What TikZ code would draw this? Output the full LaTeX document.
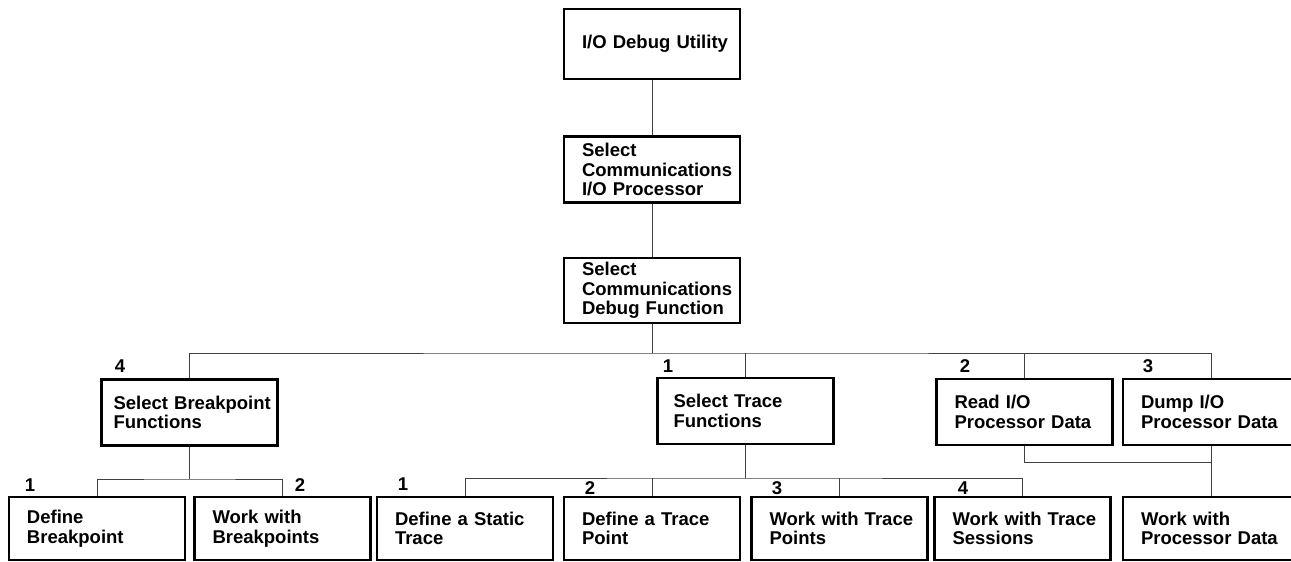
\documentclass[tikz,border=0pt]{standalone}
\usepackage{fontspec}
\setmainfont{Liberation Sans}
\usepackage{tikz}
\usetikzlibrary{positioning, calc}
\hyphenpenalty=10000
\exhyphenpenalty=10000

\begin{document}
\begin{tikzpicture}[x=1pt, y=-1pt,
		font=\fontsize{18.5}{19.5}\selectfont\bfseries,
		box/.style = {draw, line width=2.8pt, minimum width=176pt, minimum height=66pt,
			text width=140pt, inner xsep=18pt, inner ysep=0pt, align=left},
		low/.style = {box, minimum height=63pt},
		num/.style = {inner sep=0pt},
		wire/.style = {line width=0.9pt, draw=black!75}]
	\useasboundingbox (0,0) rectangle (1291,562);

	% main path
	\node[box, minimum height=70pt] (dbg) at (652,44) {I/O~Debug~Utility};
	\node[box] (cip) at (652,169.5) {Select\\Communications\\I/O~Processor};
	\node[box, minimum height=65pt] (cdf) at (652,290.5) {Select\\Communications\\Debug~Function};

	% debug functions
	\node[box, text width=152pt, inner xsep=12pt] (sbf) at (189.5,412.5) {Select~Breakpoint\\Functions};
	\node[box, text width=144pt, inner xsep=16pt] (stf) at (745.5,411) {Select~Trace\\Functions};
	\node[box] (rio) at (1024.5,412) {Read~I/O\\Processor~Data};
	\node[box] (dio) at (1211,412) {Dump~I/O\\Processor~Data};
	\node[num] (n-sbf) at (120,366) {4};
	\node[num] (n-stf) at (668,366) {1};
	\node[num] (n-rio) at (965,366) {2};
	\node[num] (n-dio) at (1148,366) {3};

	% bottom row
	\node[low] (dbp) at (97,528.5) {Define\\Breakpoint};
	\node[low] (wbp) at (282.5,528.5) {Work~with\\Breakpoints};
	\node[low] (dst) at (465,528.5) {Define~a~Static\\Trace};
	\node[low] (dtp) at (652,528.5) {Define~a~Trace\\Point};
	\node[low] (wtp) at (839.5,528.5) {Work~with~Trace\\Points};
	\node[low] (wts) at (1022.5,528.5) {Work~with~Trace\\Sessions};
	\node[low] (wpd) at (1211,528.5) {Work~with\\Processor~Data};
	\node[num] (n-dbp) at (30,485) {1};
	\node[num] (n-wbp) at (300,485) {2};
	\node[num] (n-dst) at (403,484) {1};
	\node[num] (n-dtp) at (590,488) {2};
	\node[num] (n-wtp) at (777,488) {3};
	\node[num] (n-wts) at (963,488) {4};

	\coordinate (top-bus) at (652,353);
	\coordinate (bp-bus) at (189.5,479);
	\coordinate (tr-bus) at (745.5,478);
	\coordinate (pd-bus) at (1211,462);

	\draw[wire] (dbg.south) -- (cip.north);
	\draw[wire] (cip.south) -- (cdf.north);
	\draw[wire] (cdf.south) -- (top-bus);
	\draw[wire] (sbf.north) |- (top-bus) -| (dio.north);
	\draw[wire] (stf.north) -- (stf.north |- top-bus);
	\draw[wire] (rio.north) -- (rio.north |- top-bus);

	\draw[wire] (sbf.south) -- (bp-bus);
	\draw[wire] (dbp.north) |- (bp-bus) -| (wbp.north);

	\draw[wire] (stf.south) -- (tr-bus);
	\draw[wire] (dst.north) |- (tr-bus) -| (wts.north);
	\draw[wire] (dtp.north) -- (dtp.north |- tr-bus);
	\draw[wire] (wtp.north) -- (wtp.north |- tr-bus);

	\draw[wire] (rio.south) |- (pd-bus);
	\draw[wire] (dio.south) -- (wpd.north);
\end{tikzpicture}
\end{document}
